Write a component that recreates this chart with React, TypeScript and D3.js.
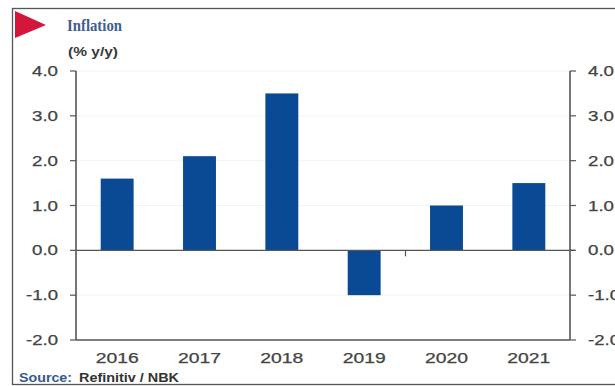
import React from "react";
import * as d3 from "d3";

const years = ["2016", "2017", "2018", "2019", "2020", "2021"];
const inflation = [1.6, 2.1, 3.5, -1.0, 1.0, 1.5];
const yTicks = [4, 3, 2, 1, 0, -1, -2];

const W = 615;
const H = 386;
const plot = { left: 76, right: 570, top: 71, bottom: 340 };

const x = d3.scaleBand<string>().domain(years).range([plot.left, plot.right]).paddingInner(0.6).paddingOuter(0.3);
const y = d3.scaleLinear().domain([-2, 4]).range([plot.bottom, plot.top]);

const axisColor = "#555555";
const labelFont = "'Liberation Sans', Arial, sans-serif";
const labelColor = "#444444";
const triangle = d3.line()([[15, 11], [46, 25], [15, 38]]) + "Z";

// Tick labels are set wide: axis numbers fill a fixed run of pixels
const tickLabelProps = {
  fontFamily: labelFont,
  fontSize: 14,
  fill: labelColor,
  stroke: labelColor,
  strokeWidth: 0.25,
  lengthAdjust: "spacingAndGlyphs" as const,
};
const tickWidth = (s: string) => (s.startsWith("-") ? 32 : 26);

export default function App() {
  const zeroY = y(0);
  return (
    <svg
      width={W}
      height={H}
      viewBox={`0 0 ${W} ${H}`}
      style={{ position: "fixed", left: 0, top: 0, display: "block", background: "#fff" }}
    >
      <rect x={12.5} y={8.5} width={W} height={H - 10} fill="#fff" stroke="#555" strokeWidth={1.3} />
      <path d={triangle} fill="#d3163a" />
      <text x={67} y={31} fontFamily="'Liberation Serif', serif" fontWeight={700} fontSize={16} fill="#3f5d8f" textLength={55} lengthAdjust="spacingAndGlyphs">
        Inflation
      </text>
      <text x={68} y={56} fontFamily={labelFont} fontWeight={700} fontSize={13} fill="#3a3a3a" textLength={50} lengthAdjust="spacingAndGlyphs">
        (% y/y)
      </text>

      {/* faint horizontal gridlines */}
      {yTicks.filter((t) => t !== 0 && t !== -2).map((t) => (
        <line key={t} x1={plot.left} x2={plot.right} y1={y(t)} y2={y(t)} stroke="#f3f3f3" strokeWidth={1} />
      ))}

      {years.map((yr, i) => {
        const v = inflation[i];
        return (
          <rect
            key={yr}
            x={x(yr)!}
            y={Math.min(y(v), zeroY)}
            width={x.bandwidth()}
            height={Math.abs(y(v) - zeroY)}
            fill="#0a4a94"
          />
        );
      })}

      {/* axes */}
      <line x1={plot.left} x2={plot.left} y1={plot.top} y2={plot.bottom} stroke={axisColor} strokeWidth={1.6} />
      <line x1={plot.right} x2={plot.right} y1={plot.top} y2={plot.bottom} stroke={axisColor} strokeWidth={1.6} />
      <line x1={plot.left} x2={plot.right} y1={plot.bottom} y2={plot.bottom} stroke={axisColor} strokeWidth={1.6} />
      <line x1={plot.left} x2={plot.right + 5} y1={zeroY} y2={zeroY} stroke={axisColor} strokeWidth={1.4} />
      <line x1={405.5} x2={405.5} y1={zeroY} y2={zeroY + 6} stroke={axisColor} strokeWidth={1.2} />

      {yTicks.map((t) => {
        const label = t.toFixed(1);
        return (
          <g key={t}>
            <line x1={plot.left - 6} x2={plot.left} y1={y(t)} y2={y(t)} stroke={axisColor} strokeWidth={1.2} />
            <line x1={plot.right} x2={plot.right + 6} y1={y(t)} y2={y(t)} stroke={axisColor} strokeWidth={1.2} />
            <text x={58 - tickWidth(label)} y={y(t) + 5} textLength={tickWidth(label)} {...tickLabelProps}>
              {label}
            </text>
            <text x={588} y={y(t) + 5} textLength={tickWidth(label)} {...tickLabelProps}>
              {label}
            </text>
          </g>
        );
      })}

      {years.map((yr) => (
        <text key={yr} x={x(yr)! + x.bandwidth() / 2 - 21.5} y={363} textLength={43} {...tickLabelProps}>
          {yr}
        </text>
      ))}

      <text x={19} y={382} fontFamily={labelFont} fontWeight={700} fontSize={12.5} fill="#35598f" textLength={53} lengthAdjust="spacingAndGlyphs">
        Source:
      </text>
      <text x={79} y={382} fontFamily={labelFont} fontWeight={700} fontSize={12.5} fill="#333" textLength={100} lengthAdjust="spacingAndGlyphs">
        Refinitiv / NBK
      </text>
    </svg>
  );
}
